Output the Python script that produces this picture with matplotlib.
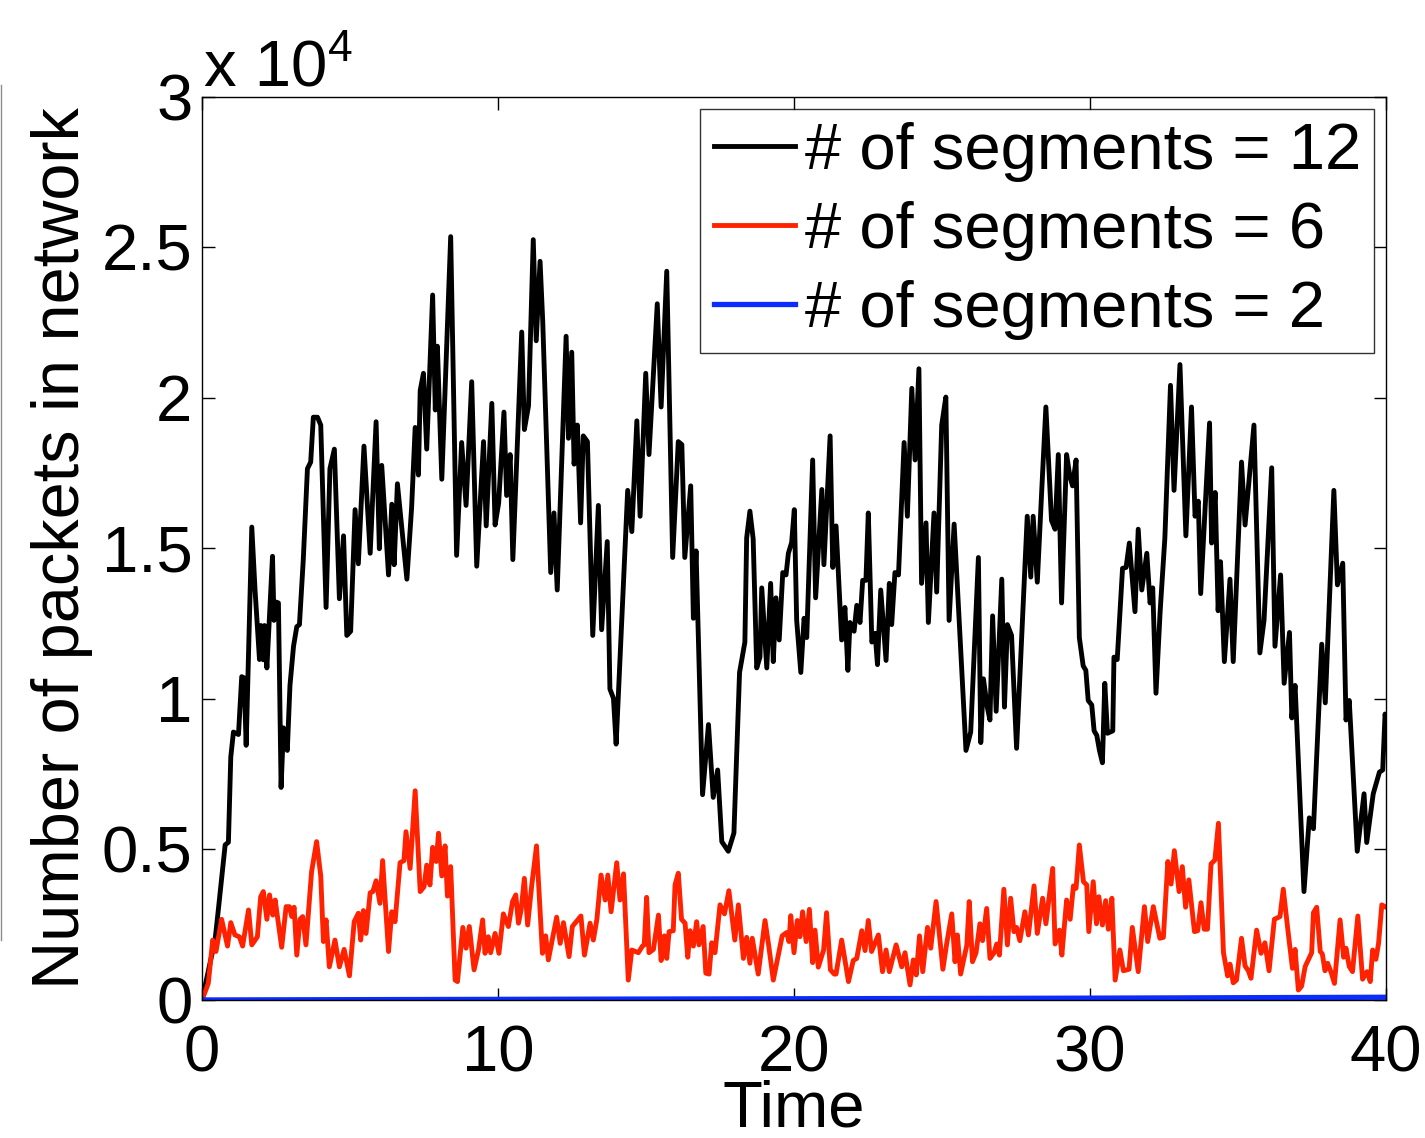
import matplotlib
matplotlib.use("Agg")
import matplotlib.pyplot as plt
from matplotlib.lines import Line2D
from matplotlib.ticker import FixedLocator, FuncFormatter

plt.rcParams['font.family'] = ['Liberation Sans', 'DejaVu Sans']

# packets in network, in units of 1e4
t12 = [0.0, 0.44, 0.55, 0.78, 0.89, 0.97, 1.06, 1.23, 1.34, 1.42, 1.49, 1.68, 1.79, 1.94, 1.99,
       2.07, 2.11, 2.19, 2.38, 2.43, 2.50, 2.58, 2.67, 2.75, 2.88, 2.97, 3.09, 3.20, 3.29, 3.42,
       3.56, 3.67, 3.76, 3.90, 4.01, 4.19, 4.32, 4.47, 4.64, 4.78, 4.89, 5.02, 5.17, 5.28, 5.47,
       5.68, 5.88, 5.99, 6.07, 6.30, 6.41, 6.49, 6.60, 6.92, 7.08, 7.20, 7.31, 7.37, 7.48, 7.59,
       7.79, 7.88, 7.95, 8.10, 8.40, 8.60, 8.77, 8.92, 9.11, 9.28, 9.51, 9.60, 9.79, 9.90, 10.02,
       10.20, 10.29, 10.41, 10.50, 10.80, 10.89, 11.03, 11.19, 11.29, 11.42, 11.51, 11.78, 11.89,
       12.00, 12.30, 12.38, 12.49, 12.57, 12.68, 12.79, 12.88, 13.02, 13.20, 13.39, 13.50, 13.69,
       13.78, 13.90, 13.99, 14.38, 14.52, 14.69, 14.80, 14.99, 15.10, 15.38, 15.51, 15.70, 15.90,
       16.09, 16.21, 16.31, 16.51, 16.60, 16.69, 16.91, 17.11, 17.27, 17.42, 17.56, 17.78, 17.97,
       18.16, 18.34, 18.40, 18.51, 18.62, 18.74, 18.85, 18.91, 19.08, 19.21, 19.30, 19.39, 19.50,
       19.62, 19.73, 19.81, 19.92, 20.01, 20.09, 20.23, 20.34, 20.43, 20.63, 20.73, 20.94, 21.01,
       21.22, 21.31, 21.42, 21.61, 21.72, 21.82, 21.89, 22.03, 22.12, 22.23, 22.32, 22.43, 22.51,
       22.63, 22.74, 22.82, 22.93, 23.11, 23.22, 23.30, 23.41, 23.53, 23.72, 23.83, 23.98, 24.09,
       24.22, 24.31, 24.46, 24.54, 24.73, 24.82, 24.99, 25.13, 25.24, 25.41, 25.81, 25.97, 26.23,
       26.31, 26.40, 26.53, 26.62, 26.71, 26.83, 27.02, 27.11, 27.21, 27.35, 27.52, 27.88, 28.00,
       28.08, 28.22, 28.37, 28.51, 28.70, 28.82, 28.93, 29.04, 29.21, 29.32, 29.41, 29.53, 29.64,
       29.77, 29.86, 29.94, 30.06, 30.14, 30.23, 30.32, 30.42, 30.50, 30.59, 30.77, 30.81, 30.92,
       31.10, 31.22, 31.33, 31.52, 31.63, 31.75, 31.92, 32.03, 32.12, 32.23, 32.37, 32.53, 32.72,
       32.84, 33.04, 33.24, 33.43, 33.55, 33.66, 33.74, 34.04, 34.11, 34.23, 34.33, 34.41, 34.54,
       34.73, 34.84, 35.12, 35.24, 35.54, 35.74, 35.88, 36.14, 36.25, 36.44, 36.56, 36.74, 36.82,
       36.93, 37.23, 37.41, 37.55, 37.83, 37.95, 38.24, 38.36, 38.54, 38.65, 38.76, 39.03, 39.26,
       39.35, 39.57, 39.78, 39.89, 39.97, 40.0]
seg12 = [0.0, 0.20, 0.30, 0.515, 0.524, 0.807, 0.89, 0.882, 1.074, 1.07, 0.846, 1.571, 1.362, 1.131, 1.244,
         1.13, 1.244, 1.103, 1.474, 1.261, 1.322, 1.319, 0.706, 0.904, 0.829, 1.045, 1.175, 1.24, 1.247, 1.463,
         1.765, 1.787, 1.936, 1.936, 1.91, 1.304, 1.765, 1.83, 1.333, 1.542, 1.211, 1.225, 1.629, 1.449, 1.84,
         1.484, 1.921, 1.499, 1.776, 1.412, 1.647, 1.446, 1.715, 1.398, 1.636, 1.902, 1.744, 2.025, 2.082, 1.83,
         2.342, 1.96, 2.172, 1.73, 2.536, 1.477, 1.852, 1.643, 2.054, 1.441, 1.855, 1.575, 1.982, 1.578, 1.65,
         1.953, 1.676, 1.812, 1.463, 2.219, 1.895, 1.974, 2.526, 2.19, 2.454, 2.255, 1.42, 1.618,
         1.362, 2.205, 1.866, 2.152, 1.78, 1.91, 1.585, 1.874, 1.855, 1.211, 1.643, 1.23, 1.523,
         1.033, 1.002, 0.85, 1.693, 1.556, 1.924, 1.607, 2.082, 1.812, 2.313, 1.97, 2.421, 1.47,
         1.855, 1.845, 1.47, 1.708, 1.268, 1.492, 0.682, 0.915, 0.673, 0.764, 0.526, 0.494, 0.555,
         1.088, 1.189, 1.535, 1.624, 1.532, 1.103, 1.139, 1.369, 1.103, 1.384, 1.124, 1.336, 1.196,
         1.42, 1.412, 1.484, 1.52, 1.629, 1.261, 1.088, 1.268, 1.204, 1.794, 1.336, 1.696, 1.446,
         1.874, 1.437, 1.575, 1.196, 1.304, 1.095, 1.254, 1.225, 1.311, 1.254, 1.394, 1.394, 1.618,
         1.189, 1.218, 1.114, 1.362, 1.128, 1.384, 1.247, 1.42, 1.412, 1.852, 1.607, 2.032, 1.794,
         2.097, 1.384, 1.585, 1.254, 1.618, 1.355, 1.91, 2.003, 1.261, 1.581, 0.829, 0.89, 1.47,
         0.855, 1.067, 0.973, 0.93, 1.276, 0.959, 1.398, 0.973, 1.247, 1.211, 0.836, 1.607, 1.405,
         1.607, 1.388, 1.693, 1.97, 1.593, 1.564, 1.812, 1.319, 1.812, 1.74, 1.708, 1.794, 1.204,
         1.11, 1.095, 0.995, 0.98, 0.894, 0.879, 0.829, 0.788, 1.052, 0.886, 0.894, 1.139, 1.131,
         1.434, 1.437, 1.518, 1.29, 1.564, 1.362, 1.484, 1.319, 1.369, 1.019, 1.29, 1.535, 2.042,
         1.693, 2.111, 1.542, 1.97, 1.607, 1.657, 1.35, 1.917, 1.518, 1.686, 1.293, 1.456, 1.124,
         1.398, 1.124, 1.787, 1.578, 1.91, 1.153, 1.261, 1.768, 1.175, 1.412, 1.052, 1.221, 0.937,
         1.045, 0.36, 0.605, 0.569, 1.182, 0.987, 1.693, 1.379, 1.451, 0.93, 0.995, 0.494, 0.685,
         0.523, 0.685, 0.757, 0.764, 0.95, 0.93]

t6 = [0.0, 0.21, 0.36, 0.47, 0.66, 0.86, 0.97, 1.11, 1.26, 1.37, 1.57, 1.68, 1.87, 1.98, 2.07,
      2.19, 2.28, 2.39, 2.47, 2.69, 2.84, 2.95, 3.03, 3.11, 3.20, 3.31, 3.40, 3.51, 3.70, 3.87,
      4.01, 4.10, 4.19, 4.30, 4.49, 4.64, 4.80, 4.98, 5.14, 5.28, 5.36, 5.45, 5.54, 5.68, 5.77,
      5.88, 6.01, 6.10, 6.30, 6.41, 6.52, 6.69, 6.82, 6.89, 7.03, 7.20, 7.37, 7.50, 7.59, 7.70,
      7.79, 7.91, 7.99, 8.10, 8.21, 8.29, 8.40, 8.55, 8.63, 8.81, 8.92, 9.03, 9.19, 9.34, 9.48,
      9.56, 9.67, 9.75, 9.90, 10.03, 10.18, 10.35, 10.49, 10.60, 10.69, 10.78, 10.89, 11.00, 11.14,
      11.30, 11.50, 11.61, 11.70, 11.98, 12.10, 12.21, 12.40, 12.51, 12.80, 12.92, 13.11, 13.22,
      13.34, 13.48, 13.62, 13.71, 13.82, 14.01, 14.12, 14.24, 14.40, 14.52, 14.74, 14.88, 14.94,
      15.02, 15.10, 15.25, 15.42, 15.51, 15.62, 15.70, 15.78, 15.92, 15.98, 16.09, 16.20, 16.32,
      16.41, 16.49, 16.60, 16.71, 16.79, 16.93, 17.02, 17.13, 17.22, 17.33, 17.50, 17.65, 17.80,
      18.00, 18.12, 18.29, 18.40, 18.51, 18.59, 18.79, 19.02, 19.15, 19.30, 19.47, 19.60, 19.75,
      19.83, 19.89, 20.00, 20.11, 20.20, 20.29, 20.41, 20.52, 20.63, 20.71, 20.82, 21.00, 21.10,
      21.23, 21.36, 21.42, 21.61, 21.84, 22.00, 22.12, 22.29, 22.40, 22.51, 22.62, 22.85, 22.99,
      23.11, 23.22, 23.45, 23.64, 23.75, 23.92, 24.03, 24.13, 24.24, 24.35, 24.51, 24.62, 24.80,
      25.03, 25.16, 25.33, 25.44, 25.52, 25.63, 25.84, 25.92, 26.03, 26.15, 26.28, 26.37, 26.51,
      26.62, 26.76, 26.85, 26.94, 27.09, 27.21, 27.32, 27.43, 27.52, 27.63, 27.80, 27.92, 28.11,
      28.22, 28.40, 28.51, 28.74, 28.82, 28.97, 29.05, 29.21, 29.33, 29.44, 29.53, 29.64, 29.78,
      29.89, 29.96, 30.11, 30.22, 30.30, 30.42, 30.53, 30.62, 30.74, 30.85, 31.01, 31.13, 31.32,
      31.43, 31.63, 31.84, 31.95, 32.14, 32.36, 32.48, 32.63, 32.74, 32.85, 33.01, 33.12, 33.23,
      33.34, 33.53, 33.64, 33.75, 33.86, 33.97, 34.09, 34.22, 34.34, 34.51, 34.65, 34.73, 34.84,
      34.95, 35.12, 35.24, 35.35, 35.44, 35.63, 35.78, 35.91, 36.05, 36.23, 36.42, 36.53, 36.70,
      36.84, 36.93, 37.04, 37.15, 37.27, 37.49, 37.55, 37.66, 37.78, 37.85, 37.94, 38.03, 38.15,
      38.26, 38.45, 38.57, 38.65, 38.76, 38.87, 39.05, 39.21, 39.36, 39.47, 39.55, 39.66, 39.75,
      39.86, 39.97]
seg6 = [0.0, 0.055, 0.199, 0.161, 0.268, 0.179, 0.257, 0.216, 0.21, 0.179, 0.299, 0.183, 0.21, 0.343, 0.36,
        0.268, 0.349, 0.282, 0.332, 0.175, 0.31, 0.31, 0.277, 0.308, 0.149, 0.268, 0.277, 0.183, 0.426, 0.526,
        0.412, 0.194, 0.266, 0.11, 0.199, 0.11, 0.168, 0.08, 0.26, 0.288, 0.199, 0.297, 0.221, 0.356, 0.36,
        0.396, 0.321, 0.463, 0.161, 0.293, 0.26, 0.456, 0.463, 0.559, 0.437, 0.695, 0.36, 0.376, 0.448, 0.382,
        0.507, 0.46, 0.554, 0.412, 0.512, 0.345, 0.443, 0.066, 0.061, 0.241, 0.172, 0.244, 0.1, 0.166, 0.266,
        0.155, 0.21, 0.157, 0.221, 0.155, 0.286, 0.244, 0.327, 0.349, 0.255, 0.299, 0.404, 0.249, 0.382,
        0.512, 0.155, 0.213, 0.133, 0.275, 0.188, 0.257, 0.144, 0.244, 0.279, 0.149, 0.255, 0.199,
        0.268, 0.415, 0.332, 0.415, 0.293, 0.456, 0.332, 0.419, 0.066, 0.166, 0.157, 0.179, 0.183,
        0.341, 0.157, 0.168, 0.282, 0.131, 0.213, 0.138, 0.227, 0.23, 0.382, 0.421, 0.268, 0.255,
        0.142, 0.23, 0.179, 0.26, 0.183, 0.244, 0.089, 0.086, 0.19, 0.157, 0.316, 0.286, 0.363,
        0.199, 0.316, 0.138, 0.208, 0.122, 0.205, 0.086, 0.264, 0.177, 0.066, 0.149, 0.213, 0.224,
        0.194, 0.28, 0.157, 0.264, 0.21, 0.293, 0.194, 0.301, 0.124, 0.232, 0.109, 0.166, 0.29,
        0.1, 0.086, 0.086, 0.199, 0.061, 0.131, 0.138, 0.23, 0.164, 0.264, 0.161, 0.216, 0.094,
        0.166, 0.094, 0.183, 0.11, 0.157, 0.05, 0.133, 0.083, 0.213, 0.094, 0.241, 0.172, 0.327,
        0.102, 0.188, 0.286, 0.127, 0.216, 0.086, 0.183, 0.327, 0.127, 0.157, 0.253, 0.197, 0.304,
        0.138, 0.157, 0.186, 0.149, 0.368, 0.183, 0.338, 0.227, 0.241, 0.197, 0.293, 0.216, 0.379,
        0.221, 0.338, 0.253, 0.437, 0.186, 0.232, 0.149, 0.332, 0.268, 0.379, 0.371, 0.515, 0.393,
        0.382, 0.227, 0.393, 0.253, 0.343, 0.249, 0.33, 0.235, 0.338, 0.066, 0.166, 0.097, 0.102,
        0.241, 0.094, 0.31, 0.194, 0.31, 0.205, 0.208, 0.46, 0.385, 0.496, 0.36, 0.443, 0.308,
        0.399, 0.227, 0.23, 0.323, 0.235, 0.235, 0.452, 0.465, 0.587, 0.157, 0.08, 0.119, 0.057,
        0.066, 0.205, 0.113, 0.097, 0.072, 0.232, 0.155, 0.19, 0.097, 0.268, 0.277, 0.368, 0.221,
        0.105, 0.168, 0.033, 0.046, 0.111, 0.157, 0.29, 0.308, 0.161, 0.153, 0.097, 0.122, 0.091,
        0.055, 0.266, 0.142, 0.172, 0.111, 0.094, 0.279, 0.069, 0.094, 0.061, 0.166, 0.135, 0.188,
        0.316, 0.31]

t2 = [0, 10, 20, 30, 40]
seg2 = [0.0, 0.002, 0.004, 0.006, 0.009]

FS = 47

fig = plt.figure(figsize=(14.25, 11.38), dpi=100)
ax = fig.add_axes([0.1418, 0.1213, 0.8308, 0.7935])

ax.plot(t12, seg12, color='black', lw=3.5, label='# of segments = 12')
ax.plot(t6, seg6, color='#ff2200', lw=3.5, label='# of segments = 6')
ax.plot(t2, seg2, color='#0a2cff', lw=3.8, label='# of segments = 2')

ax.set_xlim(0, 40)
ax.set_ylim(0, 3)
ax.xaxis.set_major_locator(FixedLocator([0, 10, 20, 30, 40]))
ax.yaxis.set_major_locator(FixedLocator([0, 0.5, 1, 1.5, 2, 2.5, 3]))
ax.yaxis.set_major_formatter(FuncFormatter(lambda v, p: '%g' % v))
ax.tick_params(direction='in', length=9, width=1, top=True, right=True, labelsize=FS)
ax.tick_params(axis='x', pad=18)
ax.tick_params(axis='y', pad=7)
for s in ax.spines.values():
    s.set_linewidth(1.0)

ax.set_xlabel('Time', fontsize=FS, labelpad=-4)
ax.set_ylabel('Number of packets in network', fontsize=48, labelpad=6)

ax.text(0.002, 1.012, 'x 10', transform=ax.transAxes, fontsize=FS, ha='left', va='baseline')
ax.text(0.106, 1.040, '4', transform=ax.transAxes, fontsize=32, ha='left', va='baseline')

leg = ax.legend(loc='upper right', fontsize=FS, frameon=True, fancybox=False,
                borderaxespad=0.18, handlelength=1.25, handletextpad=0.15,
                labelspacing=0.29, borderpad=0.2)
leg.get_frame().set_edgecolor('black')
leg.get_frame().set_linewidth(1.0)

# thin rule along the left edge
fig.add_artist(Line2D([0.0008, 0.0008], [0.174, 0.925], color='0.55', lw=1.0))

fig.savefig('out.png', dpi=100)
